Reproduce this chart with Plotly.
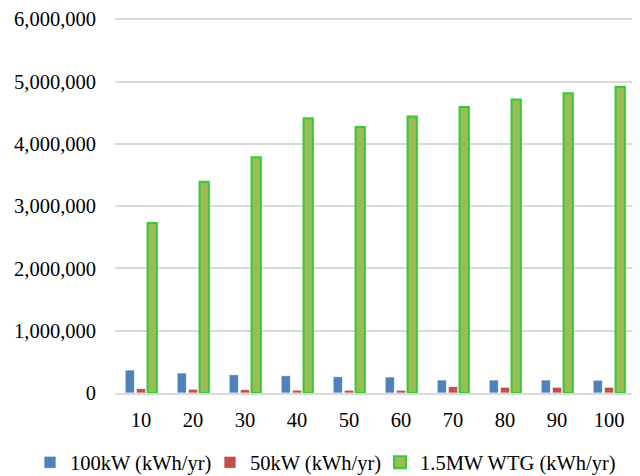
import plotly.graph_objects as go

categories = ["10", "20", "30", "40", "50", "60", "70", "80", "90", "100"]
kw100 = [369000, 321000, 294000, 278000, 262000, 257000, 209000, 209000, 209000, 205000]
kw50 = [71000, 60000, 55000, 46000, 45000, 45000, 103000, 92000, 92000, 92000]
wtg15 = [2730000, 3390000, 3785000, 4410000, 4270000, 4440000, 4590000, 4710000, 4810000, 4915000]
y_ticks = [0, 1000000, 2000000, 3000000, 4000000, 5000000, 6000000]
y_labels = ["0", "1,000,000", "2,000,000", "3,000,000", "4,000,000", "5,000,000", "6,000,000"]

font_family = "Liberation Serif"
W, H = 632, 468

fig = go.Figure()
fig.add_trace(go.Bar(name="100kW (kWh/yr)", x=categories, y=kw100, legend="legend",
                     marker=dict(color="#4f81bd", line=dict(color="rgba(255,255,255,0.7)", width=1))))
fig.add_trace(go.Bar(name="50kW (kWh/yr)", x=categories, y=kw50, legend="legend2",
                     marker=dict(color="#c0504d", line=dict(color="rgba(255,255,255,0.7)", width=1))))
fig.add_trace(go.Bar(name="1.5MW WTG (kWh/yr)", x=categories, y=wtg15, legend="legend3",
                     marker=dict(color="#9bbb59", line=dict(color="#33cc33", width=2))))

def leg(px_start):
    return dict(orientation="h", xref="container", yref="container",
                x=(px_start - 8) / W, y=13.5 / H, xanchor="left", yanchor="middle",
                font=dict(family=font_family, size=20.5, color="#000000"),
                bgcolor="rgba(0,0,0,0)", borderwidth=0, itemwidth=30)

fig.update_layout(
    width=W, height=H,
    barmode="group", bargap=0.354, bargroupgap=0.17,
    paper_bgcolor="white", plot_bgcolor="white",
    margin=dict(l=107, r=5, t=10.25, b=82.5, autoexpand=False),
    font=dict(family=font_family, size=20.5, color="#000000"),
    showlegend=True,
    legend=leg(30), legend2=leg(210), legend3=leg(380),
)
fig.update_xaxes(type="category", showgrid=False, showline=True, linecolor="#d9d9d9",
                 linewidth=2, ticks="", tickfont=dict(size=20.5), ticklabelstandoff=7)
fig.update_yaxes(range=[0, 6020000], tickvals=y_ticks, ticktext=y_labels,
                 showgrid=True, gridcolor="#d9d9d9", gridwidth=1.5, zeroline=False,
                 showline=False, ticks="", tickfont=dict(size=20.5), ticklabelstandoff=18)

fig.write_html("out.html")
